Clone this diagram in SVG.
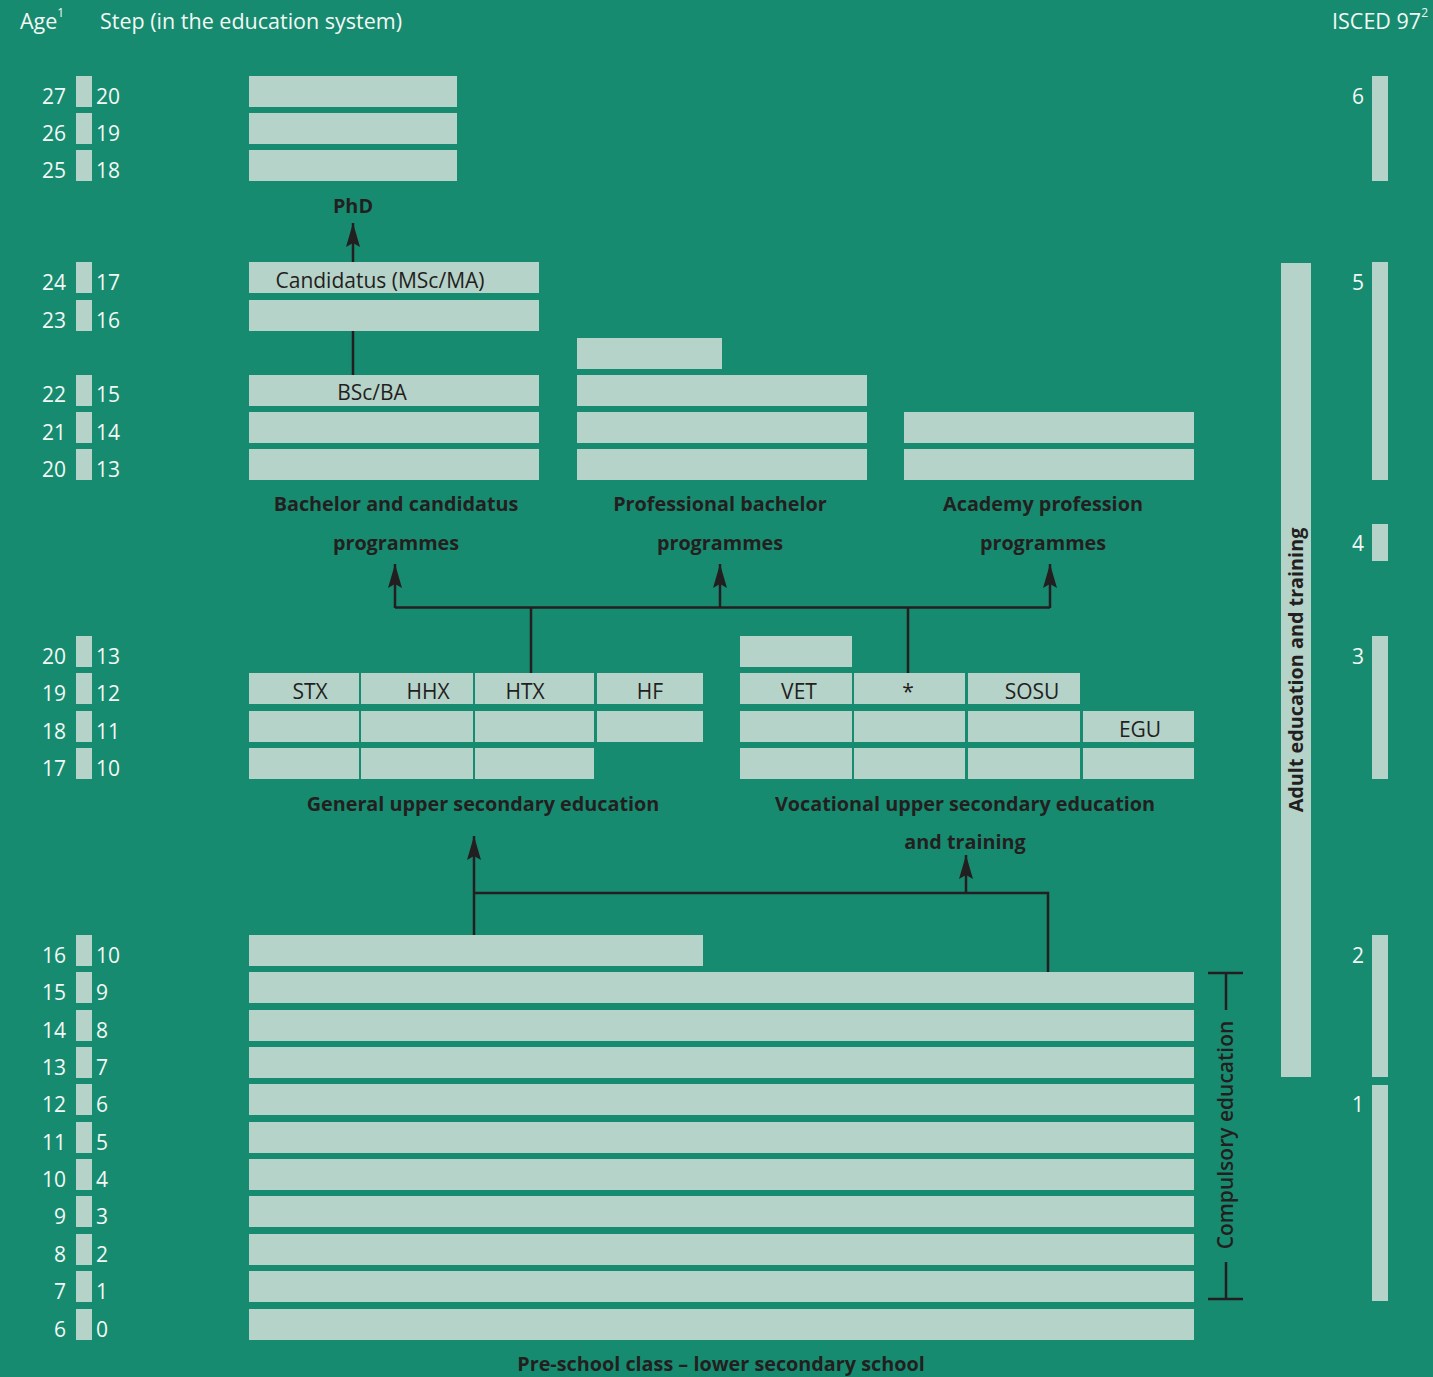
<svg xmlns="http://www.w3.org/2000/svg" width="1433" height="1377" viewBox="0 0 1433 1377">
<defs>
<style>
.bar{fill:#b6d3c9}
.num{font-family:"Open Sans","Noto Sans",sans-serif;font-size:21px;fill:#f3f8f5}
.age{text-anchor:end}
.hdr{font-family:"Open Sans","Noto Sans",sans-serif;font-size:21.5px;fill:#f3f8f5}
.sup{font-size:12px}
.cell{font-family:"Open Sans","Noto Sans",sans-serif;font-size:21px;fill:#231f20;text-anchor:middle}
.lbl{font-family:"Open Sans","Noto Sans",sans-serif;font-size:19.8px;font-weight:700;fill:#231f20;text-anchor:middle}
.cmp{font-family:"Open Sans","Noto Sans",sans-serif;font-size:21px;font-weight:600;fill:#231f20;text-anchor:middle}
.conn{fill:none;stroke:#231f20;stroke-width:2.5}
.isc{font-family:"Open Sans","Noto Sans",sans-serif;font-size:21px;fill:#f3f8f5;text-anchor:middle}
</style>
<marker id="ah" markerUnits="userSpaceOnUse" markerWidth="26" markerHeight="14" viewBox="0 0 26 14" refX="24" refY="7" orient="auto">
<path d="M0,0 L24,7 L0,14 L4,7 Z" fill="#231f20"/>
</marker>
</defs>
<rect x="0" y="0" width="1433" height="1377" fill="#178b6f"/>

<g id="header">
<text class="hdr" x="20" y="29">Age<tspan class="sup" dy="-12">1</tspan></text>
<text class="hdr" x="100" y="29">Step (in the education system)</text>
<text class="hdr" x="1428" y="29" text-anchor="end">ISCED 97<tspan class="sup" dy="-12">2</tspan></text>
</g>

<g id="scale">
<rect class="bar" x="76" y="76" width="16" height="31"/>
<rect class="bar" x="76" y="113" width="16" height="31"/>
<rect class="bar" x="76" y="150" width="16" height="31"/>
<rect class="bar" x="76" y="262" width="16" height="31"/>
<rect class="bar" x="76" y="300" width="16" height="31"/>
<rect class="bar" x="76" y="375" width="16" height="31"/>
<rect class="bar" x="76" y="412" width="16" height="31"/>
<rect class="bar" x="76" y="449" width="16" height="31"/>
<rect class="bar" x="76" y="636" width="16" height="31"/>
<rect class="bar" x="76" y="673" width="16" height="31"/>
<rect class="bar" x="76" y="711" width="16" height="31"/>
<rect class="bar" x="76" y="748" width="16" height="31"/>
<rect class="bar" x="76" y="935" width="16" height="31"/>
<rect class="bar" x="76" y="972" width="16" height="31"/>
<rect class="bar" x="76" y="1010" width="16" height="31"/>
<rect class="bar" x="76" y="1047" width="16" height="31"/>
<rect class="bar" x="76" y="1084" width="16" height="31"/>
<rect class="bar" x="76" y="1122" width="16" height="31"/>
<rect class="bar" x="76" y="1159" width="16" height="31"/>
<rect class="bar" x="76" y="1196" width="16" height="31"/>
<rect class="bar" x="76" y="1234" width="16" height="31"/>
<rect class="bar" x="76" y="1271" width="16" height="31"/>
<rect class="bar" x="76" y="1309" width="16" height="31"/>
<text class="num age" x="66" y="104">27</text><text class="num" x="96" y="104">20</text>
<text class="num age" x="66" y="141">26</text><text class="num" x="96" y="141">19</text>
<text class="num age" x="66" y="178">25</text><text class="num" x="96" y="178">18</text>
<text class="num age" x="66" y="290">24</text><text class="num" x="96" y="290">17</text>
<text class="num age" x="66" y="328">23</text><text class="num" x="96" y="328">16</text>
<text class="num age" x="66" y="402">22</text><text class="num" x="96" y="402">15</text>
<text class="num age" x="66" y="440">21</text><text class="num" x="96" y="440">14</text>
<text class="num age" x="66" y="477">20</text><text class="num" x="96" y="477">13</text>
<text class="num age" x="66" y="664">20</text><text class="num" x="96" y="664">13</text>
<text class="num age" x="66" y="701">19</text><text class="num" x="96" y="701">12</text>
<text class="num age" x="66" y="739">18</text><text class="num" x="96" y="739">11</text>
<text class="num age" x="66" y="776">17</text><text class="num" x="96" y="776">10</text>
<text class="num age" x="66" y="963">16</text><text class="num" x="96" y="963">10</text>
<text class="num age" x="66" y="1000">15</text><text class="num" x="96" y="1000">9</text>
<text class="num age" x="66" y="1038">14</text><text class="num" x="96" y="1038">8</text>
<text class="num age" x="66" y="1075">13</text><text class="num" x="96" y="1075">7</text>
<text class="num age" x="66" y="1112">12</text><text class="num" x="96" y="1112">6</text>
<text class="num age" x="66" y="1150">11</text><text class="num" x="96" y="1150">5</text>
<text class="num age" x="66" y="1187">10</text><text class="num" x="96" y="1187">4</text>
<text class="num age" x="66" y="1224">9</text><text class="num" x="96" y="1224">3</text>
<text class="num age" x="66" y="1262">8</text><text class="num" x="96" y="1262">2</text>
<text class="num age" x="66" y="1299">7</text><text class="num" x="96" y="1299">1</text>
<text class="num age" x="66" y="1337">6</text><text class="num" x="96" y="1337">0</text>
</g>

<g id="phd">
<rect class="bar" x="249" y="76" width="208" height="31"/>
<rect class="bar" x="249" y="113" width="208" height="31"/>
<rect class="bar" x="249" y="150" width="208" height="31"/>
<text class="lbl" x="353" y="213">PhD</text>
</g>

<g id="candidatus">
<rect class="bar" x="249" y="262" width="290" height="31"/>
<rect class="bar" x="249" y="300" width="290" height="31"/>
<text class="cell" x="380" y="288">Candidatus (MSc/MA)</text>
</g>

<g id="bachelor">
<rect class="bar" x="249" y="375" width="290" height="31"/>
<rect class="bar" x="249" y="412" width="290" height="31"/>
<rect class="bar" x="249" y="449" width="290" height="31"/>
<text class="cell" x="372" y="400">BSc/BA</text>
<text class="lbl" x="396" y="511">Bachelor and candidatus</text>
<text class="lbl" x="396" y="550">programmes</text>
</g>

<g id="professional">
<rect class="bar" x="577" y="338" width="145" height="31"/>
<rect class="bar" x="577" y="375" width="290" height="31"/>
<rect class="bar" x="577" y="412" width="290" height="31"/>
<rect class="bar" x="577" y="449" width="290" height="31"/>
<text class="lbl" x="720" y="511">Professional bachelor</text>
<text class="lbl" x="720" y="550">programmes</text>
</g>

<g id="academy">
<rect class="bar" x="904" y="412" width="290" height="31"/>
<rect class="bar" x="904" y="449" width="290" height="31"/>
<text class="lbl" x="1043" y="511">Academy profession</text>
<text class="lbl" x="1043" y="550">programmes</text>
</g>

<g id="general-upper-secondary">
<rect class="bar" x="249" y="673" width="110" height="31"/>
<rect class="bar" x="361" y="673" width="112" height="31"/>
<rect class="bar" x="475" y="673" width="119" height="31"/>
<rect class="bar" x="597" y="673" width="106" height="31"/>
<rect class="bar" x="249" y="711" width="110" height="31"/>
<rect class="bar" x="361" y="711" width="112" height="31"/>
<rect class="bar" x="475" y="711" width="119" height="31"/>
<rect class="bar" x="597" y="711" width="106" height="31"/>
<rect class="bar" x="249" y="748" width="110" height="31"/>
<rect class="bar" x="361" y="748" width="112" height="31"/>
<rect class="bar" x="475" y="748" width="119" height="31"/>
<text class="cell" x="310" y="699">STX</text>
<text class="cell" x="428" y="699">HHX</text>
<text class="cell" x="525" y="699">HTX</text>
<text class="cell" x="650" y="699">HF</text>
<text class="lbl" x="483" y="811">General upper secondary education</text>
</g>

<g id="vocational-upper-secondary">
<rect class="bar" x="740" y="636" width="112" height="31"/>
<rect class="bar" x="740" y="673" width="112" height="31"/>
<rect class="bar" x="854" y="673" width="111" height="31"/>
<rect class="bar" x="968" y="673" width="112" height="31"/>
<rect class="bar" x="740" y="711" width="112" height="31"/>
<rect class="bar" x="854" y="711" width="111" height="31"/>
<rect class="bar" x="968" y="711" width="112" height="31"/>
<rect class="bar" x="1083" y="711" width="111" height="31"/>
<rect class="bar" x="740" y="748" width="112" height="31"/>
<rect class="bar" x="854" y="748" width="111" height="31"/>
<rect class="bar" x="968" y="748" width="112" height="31"/>
<rect class="bar" x="1083" y="748" width="111" height="31"/>
<text class="cell" x="799" y="699">VET</text>
<text class="cell" x="908" y="699">*</text>
<text class="cell" x="1032" y="699">SOSU</text>
<text class="cell" x="1140" y="737">EGU</text>
<text class="lbl" x="965" y="811">Vocational upper secondary education</text>
<text class="lbl" x="965" y="849">and training</text>
</g>

<g id="primary-lower-secondary">
<rect class="bar" x="249" y="935" width="454" height="31"/>
<rect class="bar" x="249" y="972" width="945" height="31"/>
<rect class="bar" x="249" y="1010" width="945" height="31"/>
<rect class="bar" x="249" y="1047" width="945" height="31"/>
<rect class="bar" x="249" y="1084" width="945" height="31"/>
<rect class="bar" x="249" y="1122" width="945" height="31"/>
<rect class="bar" x="249" y="1159" width="945" height="31"/>
<rect class="bar" x="249" y="1196" width="945" height="31"/>
<rect class="bar" x="249" y="1234" width="945" height="31"/>
<rect class="bar" x="249" y="1271" width="945" height="31"/>
<rect class="bar" x="249" y="1309" width="945" height="31"/>
<text class="lbl" x="721" y="1371">Pre-school class – lower secondary school</text>
</g>

<g id="compulsory-education">
<path class="conn" d="M1208,973 H1243 M1226,973 V1010 M1226,1262 V1299 M1208,1299 H1243"/>
<text class="cmp" transform="translate(1233,1135) rotate(-90)">Compulsory education</text>
</g>

<g id="adult-education">
<rect class="bar" x="1281" y="263" width="30" height="814"/>
<text class="lbl" transform="translate(1303,670) rotate(-90)">Adult education and training</text>
</g>

<g id="isced">
<rect class="bar" x="1372" y="76" width="16" height="105"/>
<rect class="bar" x="1372" y="262" width="16" height="218"/>
<rect class="bar" x="1372" y="524" width="16" height="37"/>
<rect class="bar" x="1372" y="636" width="16" height="143"/>
<rect class="bar" x="1372" y="935" width="16" height="142"/>
<rect class="bar" x="1372" y="1085" width="16" height="216"/>
<text class="isc" x="1358" y="104">6</text>
<text class="isc" x="1358" y="290">5</text>
<text class="isc" x="1358" y="551">4</text>
<text class="isc" x="1358" y="664">3</text>
<text class="isc" x="1358" y="963">2</text>
<text class="isc" x="1358" y="1112">1</text>
</g>

<g id="connectors">
<path class="conn" d="M353,262 V223" marker-end="url(#ah)"/>
<path class="conn" d="M353,331 V375"/>
<path class="conn" d="M395,607.5 H1050"/>
<path class="conn" d="M395,608 V564" marker-end="url(#ah)"/>
<path class="conn" d="M720,608 V564" marker-end="url(#ah)"/>
<path class="conn" d="M1050,608 V564" marker-end="url(#ah)"/>
<path class="conn" d="M531,607 V673"/>
<path class="conn" d="M908,607 V673"/>
<path class="conn" d="M474,935 V836" marker-end="url(#ah)"/>
<path class="conn" d="M474,893 H1048 V972"/>
<path class="conn" d="M966,893 V855" marker-end="url(#ah)"/>
</g>
</svg>
